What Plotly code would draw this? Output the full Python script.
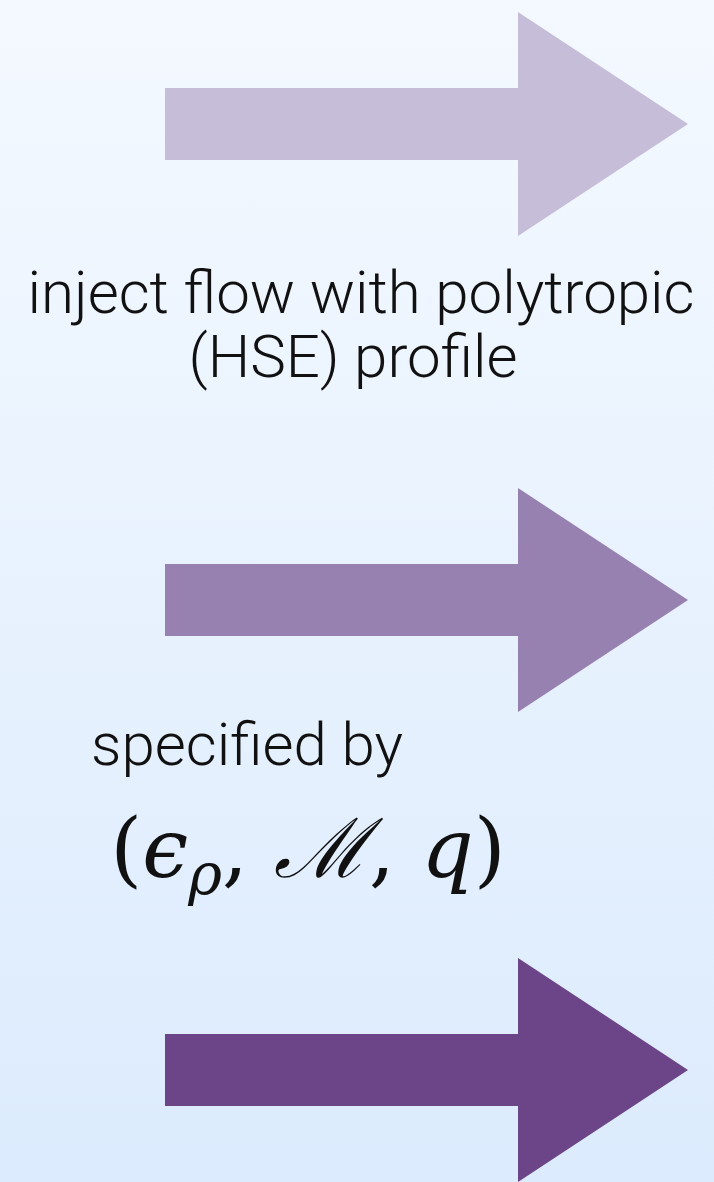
import plotly.graph_objects as go

W, H = 714, 1182

# arrows: vertical centre, fill colour
arrow_y = [124, 600, 1070]
arrow_colors = ['#c6bed9', '#9781b0', '#6b4587']
shaft_x0, head_x0, tip_x = 165, 518, 688
shaft_half, head_half = 36, 112

labels = ['inject flow with polytropic', '(HSE) profile', 'specified by']
label_x = [361, 353, 247]
label_y = [298, 362, 750]

math_label = '(<i>ϵ</i><sub><i>ρ</i></sub>, <i>ℳ</i>, <i>q</i>)'

bg_top, bg_bottom = '#f4f9ff', '#dcebfd'

fig = go.Figure()

# background gradient
fig.add_trace(go.Scatter(
    x=[0, W, W, 0, 0], y=[0, 0, H, H, 0], mode='lines', fill='toself',
    line=dict(width=0),
    fillgradient=dict(type='vertical', colorscale=[[0, bg_bottom], [1, bg_top]]),
    hoverinfo='skip', showlegend=False))

for yc, col in zip(arrow_y, arrow_colors):
    xs = [shaft_x0, head_x0, head_x0, tip_x, head_x0, head_x0, shaft_x0, shaft_x0]
    ys = [yc - shaft_half, yc - shaft_half, yc - head_half, yc,
          yc + head_half, yc + shaft_half, yc + shaft_half, yc - shaft_half]
    fig.add_trace(go.Scatter(x=xs, y=ys, mode='lines', fill='toself',
                             fillcolor=col, line=dict(width=0),
                             hoverinfo='skip', showlegend=False))

fig.add_trace(go.Scatter(
    x=label_x, y=label_y, mode='text', text=labels,
    textfont=dict(family='Roboto, Liberation Sans', size=60, color='#111111', weight=300),
    hoverinfo='skip', showlegend=False))

fig.add_trace(go.Scatter(
    x=[308], y=[856], mode='text', text=[math_label],
    textfont=dict(family='DejaVu Serif, Liberation Serif', size=82, color='#111111'),
    hoverinfo='skip', showlegend=False))

fig.update_layout(
    width=W, height=H, margin=dict(t=0, l=0, r=0, b=0),
    paper_bgcolor=bg_top, plot_bgcolor=bg_top,
    xaxis=dict(range=[0, W], visible=False, fixedrange=True),
    yaxis=dict(range=[H, 0], visible=False, fixedrange=True),
)

fig.write_html("out.html", config={'displayModeBar': False},
               post_script="document.body.style.margin='0px';")
